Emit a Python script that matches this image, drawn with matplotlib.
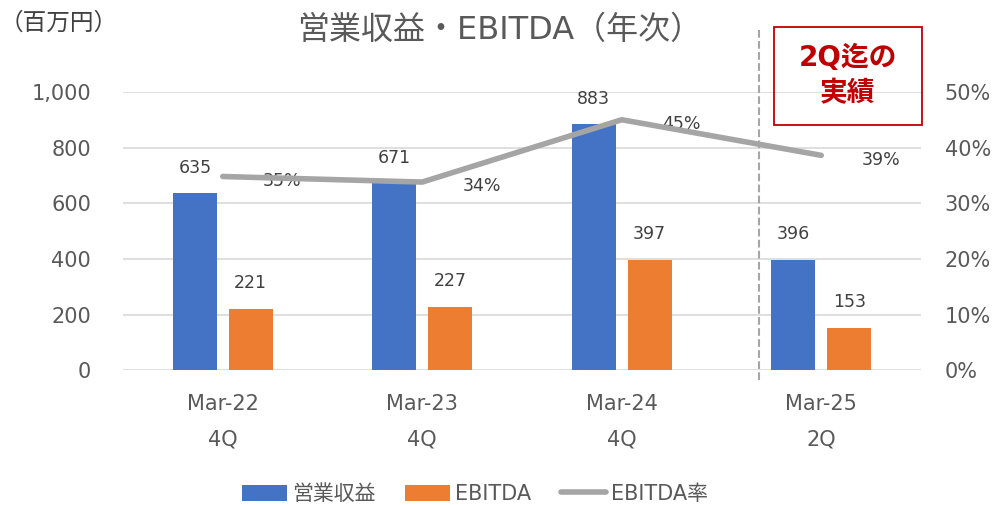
import numpy as np
import matplotlib
matplotlib.use("Agg")
import matplotlib.pyplot as plt
from matplotlib.patches import Rectangle

plt.rcParams['font.family'] = ['DejaVu Sans', 'Noto Sans CJK JP']

periods = ['Mar-22\n4Q', 'Mar-23\n4Q', 'Mar-24\n4Q', 'Mar-25\n2Q']
revenue = [635, 671, 883, 396]
ebitda = [221, 227, 397, 153]
margin = [34.8, 33.8, 45.0, 38.6]
margin_labels = ['35%', '34%', '45%', '39%']

c_blue = '#4472C4'
c_orange = '#ED7D31'
c_line = '#A5A5A5'
c_text = '#595959'
c_grid = '#D9D9D9'

fig = plt.figure(figsize=(10, 5.05), dpi=100)
ax = fig.add_axes([0.123, 0.267, 0.798, 0.551])
ax2 = ax.twinx()

x = np.arange(len(periods))
w = 0.22
b1 = ax.bar(x - 0.14, revenue, w, color=c_blue, zorder=3, label='営業収益')
b2 = ax.bar(x + 0.14, ebitda, w, color=c_orange, zorder=3, label='EBITDA')

for xi, v in zip(x - 0.14, revenue):
    ax.annotate(f'{v}', (xi, v), xytext=(0, 12), textcoords='offset points',
                ha='center', va='bottom', fontsize=12.5, color='#404040')
for xi, v in zip(x + 0.14, ebitda):
    ax.annotate(f'{v}', (xi, v), xytext=(0, 12), textcoords='offset points',
                ha='center', va='bottom', fontsize=12.5, color='#404040')

ln, = ax2.plot(x, margin, color=c_line, lw=4, solid_capstyle='round', zorder=4, label='EBITDA率')
for xi, v, s in zip(x, margin, margin_labels):
    ax2.annotate(s, (xi, v), xytext=(29, -3), textcoords='offset points',
                 ha='left', va='center', fontsize=12.5, color='#404040')

ax.set_xlim(-0.5, 3.5)
ax.set_ylim(0, 1000)
ax.set_yticks(range(0, 1001, 200))
ax.set_yticklabels([f'{v:,}' for v in range(0, 1001, 200)])
ax2.set_ylim(0, 50)
ax2.set_yticks(range(0, 51, 10))
ax2.set_yticklabels([f'{v}%' for v in range(0, 51, 10)])

ax.set_xticks(x)
ax.set_xticklabels(periods, linespacing=2.0)
ax.yaxis.grid(True, color=c_grid, lw=1.2, zorder=0)
ax.set_axisbelow(True)
for a in (ax, ax2):
    for sp in a.spines.values():
        sp.set_visible(False)
    a.tick_params(length=0, labelsize=15, colors=c_text)
ax.tick_params(axis='y', pad=23)
ax2.tick_params(axis='y', pad=17)
ax.tick_params(axis='x', pad=17)

# dashed separator
ax.plot([2.69, 2.69], [-36, 1225], ls='--', color='#A6A6A6', lw=1.5, clip_on=False, zorder=2)

fig.text(0.5, 0.94, '営業収益・EBITDA（年次）', ha='center', va='center', fontsize=23, color=c_text)
fig.text(0.0, 0.955, '（百万円）', ha='left', va='center', fontsize=17, color='#404040')

fig.patches.append(Rectangle((0.774, 0.753), 0.148, 0.193, transform=fig.transFigure,
                             fill=False, edgecolor='#C00000', lw=1.3))
fig.text(0.848, 0.85, '2Q迄の\n実績', ha='center', va='center', fontsize=20,
         fontweight='bold', color='#C00000', linespacing=1.35)

fig.legend(handles=[b1, b2, ln], loc='lower center', ncol=3, frameon=False,
           bbox_to_anchor=(0.475, -0.035), fontsize=15, labelcolor=c_text,
           handlelength=2.16, handleheight=0.8, columnspacing=1.44, handletextpad=0.24)

fig.savefig('out.png', dpi=100)
